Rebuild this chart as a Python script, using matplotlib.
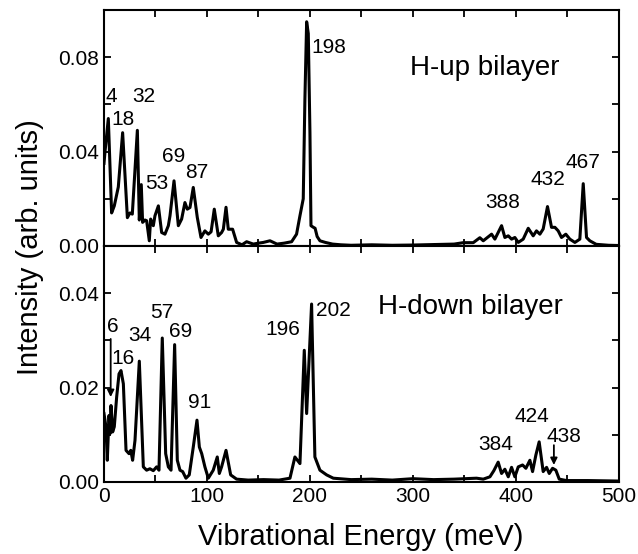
import matplotlib
matplotlib.use("Agg")
import matplotlib.pyplot as plt
from matplotlib.ticker import MultipleLocator, FormatStrFormatter

plt.rcParams['font.family'] = ['Liberation Sans', 'DejaVu Sans']

# ---- data: H-up bilayer ----
e_up = [0, 1, 4.2, 7.4, 10, 13.9, 18.1, 22.7, 25.2, 27.5, 32.4, 34.3, 36.2, 37.5, 39.8,
        41.4, 44, 45.3, 47.9, 49.5, 52.8, 56, 59.2, 62.5, 64.1, 68, 72.2, 75.4, 78.6,
        80.9, 83.5, 86.7, 90.6, 94.2, 98, 101.3, 104, 107.1, 111, 114.2, 115.9, 118.5,
        120.7, 124.9, 128.8, 134, 138.5, 145, 150, 154.7, 161.2, 168, 175, 182.2, 187,
        190.3, 193.5, 195.1, 196.8, 198.4, 200, 201, 203, 205, 207, 209.7, 215, 222,
        230, 240, 260, 280, 300, 320, 340, 348.9, 358.6, 365, 368.3, 376.4, 379.6,
        386.1, 389.3, 392.6, 395.8, 399, 402.3, 407.1, 412, 416.8, 420, 423.3, 426.5,
        430.7, 434.6, 437.9, 441.1, 444.3, 448.5, 452.4, 457.3, 462.1, 465.4, 468.6,
        471.8, 478, 490, 500]
i_up = [0.035, 0.040, 0.054, 0.014, 0.017, 0.025, 0.048, 0.012, 0.014, 0.0135, 0.049,
        0.011, 0.026, 0.010, 0.011, 0.0107, 0.0022, 0.0114, 0.0086, 0.0128, 0.017,
        0.0057, 0.005, 0.0086, 0.0128, 0.0276, 0.0086, 0.0114, 0.0184, 0.0156, 0.0163,
        0.0248, 0.0121, 0.0036, 0.0064, 0.005, 0.006, 0.0156, 0.0043, 0.0057, 0.0071,
        0.0164, 0.0071, 0.0071, 0.0015, 0.0005, 0.0018, 0.0008, 0.0012, 0.0015, 0.0022,
        0.0008, 0.0012, 0.0018, 0.005, 0.0128, 0.020, 0.062, 0.095, 0.090, 0.048,
        0.0086, 0.0080, 0.0075, 0.004, 0.0022, 0.0015, 0.0008, 0.0005, 0.0003, 0.0005,
        0.0003, 0.0004, 0.0006, 0.0008, 0.0014, 0.0014, 0.0035, 0.0022, 0.005, 0.0029,
        0.0086, 0.0036, 0.0043, 0.0029, 0.0036, 0.0015, 0.0029, 0.0075, 0.0043, 0.0064,
        0.005, 0.0072, 0.0167, 0.0079, 0.0079, 0.0064, 0.0036, 0.005, 0.0029, 0.0015,
        0.0029, 0.0264, 0.0036, 0.0022, 0.0007, 0.0003, 0.0002]

# ---- data: H-down bilayer ----
e_dn = [0, 1.9, 3.2, 4.9, 5.8, 6.8, 8.4, 10, 12.3, 14.6, 16.5, 18.8, 21.4, 24.3, 26,
        27.8, 30.1, 34.3, 38.2, 41.4, 44.6, 47.9, 51.1, 53.4, 56.6, 59.9, 62.5, 65.1,
        68.6, 71.2, 73.8, 76.4, 79.6, 82.8, 86.7, 90.3, 92.6, 94.9, 98, 101.3, 106.1,
        110, 112, 114.2, 118.5, 123, 128.8, 140, 155, 170, 180.6, 185.4, 190.3, 194.5,
        196.8, 201.6, 204.8, 209.7, 216.2, 222.7, 240, 260, 280, 300, 320, 340, 361.8,
        368.3, 374.8, 378.6, 382.8, 386.1, 389.3, 392.6, 395.8, 399, 402.3, 406.5,
        409.7, 413.6, 416.2, 419.4, 422.6, 426.5, 429.8, 432.4, 435.6, 438.8, 442.1,
        449.2, 470, 500]
i_dn = [0.0145, 0.0117, 0.0046, 0.0141, 0.0102, 0.0162, 0.0106, 0.0117, 0.018, 0.0229,
        0.0236, 0.0208, 0.0067, 0.006, 0.0067, 0.0046, 0.0088, 0.0256, 0.0032, 0.0025,
        0.0028, 0.0024, 0.0032, 0.0025, 0.0305, 0.006, 0.0032, 0.0025, 0.0291, 0.0046,
        0.0025, 0.0022, 0.0008, 0.0015, 0.0074, 0.0131, 0.0074, 0.006, 0.0032, 0.0008,
        0.0025, 0.0053, 0.0018, 0.0032, 0.0067, 0.0015, 0.0006, 0.0004, 0.0005, 0.0004,
        0.0008, 0.0053, 0.0039, 0.0279, 0.0145, 0.0377, 0.0053, 0.0025, 0.0015, 0.0008,
        0.0005, 0.0006, 0.0004, 0.0007, 0.0005, 0.0006, 0.0008, 0.0006, 0.0011, 0.0024,
        0.0042, 0.0018, 0.0027, 0.0011, 0.0031, 0.0011, 0.0032, 0.0036, 0.0029, 0.0046,
        0.0022, 0.0057, 0.0085, 0.0022, 0.0031, 0.0018, 0.0029, 0.0025, 0.0006, 0.0003,
        0.0003, 0.0002]

# ---- peak labels ----
up_labels = ["4", "18", "32", "53", "69", "87", "198", "388", "432", "467"]
up_lab_x = [7.5, 18.1, 38.2, 51.1, 67.3, 90, 201.6, 387, 431, 465.4]
up_lab_y = [0.0634, 0.0536, 0.0634, 0.0265, 0.0378, 0.031, 0.0841, 0.0184, 0.028, 0.0353]
up_lab_ha = ["center", "center", "center", "center", "center", "center", "left",
             "center", "center", "center"]

dn_labels = ["6", "16", "34", "57", "69", "91", "196", "202", "384", "424", "438"]
dn_lab_x = [8.4, 18.1, 35, 56, 74.4, 92.6, 190.3, 205.8, 380.3, 415.2, 447]
dn_lab_y = [0.0329, 0.0261, 0.031, 0.0359, 0.0319, 0.0169, 0.0324, 0.0363, 0.008,
            0.0139, 0.0097]
dn_lab_ha = ["center", "center", "center", "center", "center", "center", "right",
             "left", "center", "center", "center"]

# arrows (x, y_start, y_end)
arrow_x = [6.5, 436.9]
arrow_y0 = [0.0303, 0.0078]
arrow_y1 = [0.0180, 0.0036]

fig = plt.figure(figsize=(6.38, 5.54), dpi=100)
ax1 = fig.add_axes([0.163, 0.556, 0.807, 0.426])
ax2 = fig.add_axes([0.163, 0.130, 0.807, 0.426])

lw = 2.2
ax1.plot(e_up, i_up, color='black', lw=lw, solid_joinstyle='round')
ax2.plot(e_dn, i_dn, color='black', lw=lw, solid_joinstyle='round')

fs_tick = 15
for ax in (ax1, ax2):
    ax.set_xlim(0, 500)
    ax.xaxis.set_major_locator(MultipleLocator(100))
    ax.xaxis.set_minor_locator(MultipleLocator(50))
    ax.tick_params(which='both', direction='in', top=True, right=True,
                   labelsize=fs_tick, width=1.3)
    ax.tick_params(which='major', length=5)
    ax.tick_params(which='minor', length=5)
    for s in ax.spines.values():
        s.set_linewidth(1.5)
    ax.yaxis.set_major_formatter(FormatStrFormatter('%.2f'))

ax1.set_ylim(0, 0.1)
ax1.yaxis.set_major_locator(MultipleLocator(0.04))
ax1.yaxis.set_minor_locator(MultipleLocator(0.02))
ax1.tick_params(labelbottom=False)

ax2.set_ylim(0, 0.05)
ax2.yaxis.set_major_locator(MultipleLocator(0.02))
ax2.yaxis.set_minor_locator(MultipleLocator(0.01))

fs_lab = 15
for t, x, y, ha in zip(up_labels, up_lab_x, up_lab_y, up_lab_ha):
    ax1.text(x, y, t, ha=ha, va='center', fontsize=fs_lab)
for t, x, y, ha in zip(dn_labels, dn_lab_x, dn_lab_y, dn_lab_ha):
    ax2.text(x, y, t, ha=ha, va='center', fontsize=fs_lab)

for x, y0, y1 in zip(arrow_x, arrow_y0, arrow_y1):
    ax2.annotate('', xy=(x, y1), xytext=(x, y0),
                 arrowprops=dict(arrowstyle='-|>', color='black', lw=1.3,
                                 mutation_scale=10, shrinkA=0, shrinkB=0))

ax1.text(297, 0.0755, 'H-up bilayer', fontsize=20, ha='left', va='center')
ax2.text(266, 0.037, 'H-down bilayer', fontsize=20, ha='left', va='center')

fig.text(0.047, 1 - 247 / 554, 'Intensity (arb. units)', rotation=90,
         ha='center', va='center', fontsize=21)
fig.text(0.566, 1 - 537 / 554, 'Vibrational Energy (meV)', ha='center',
         va='center', fontsize=21)

fig.savefig('out.png', dpi=100)
